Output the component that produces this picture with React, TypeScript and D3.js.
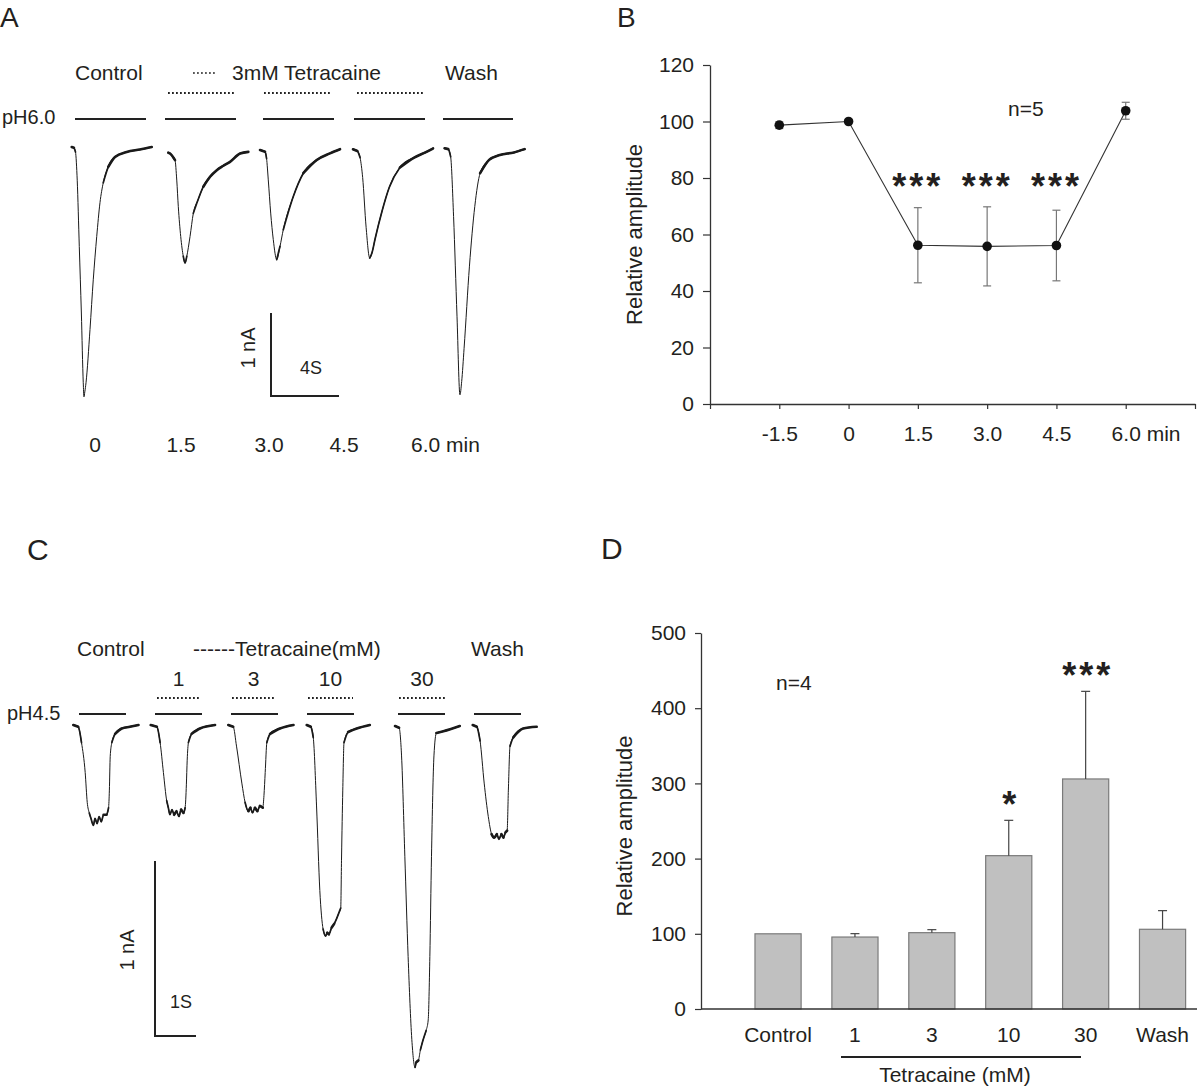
import React, { useEffect, useRef } from 'react';
import * as d3 from 'd3';

type Pt = [number, number];

const FONT = '"Liberation Sans", Arial, Helvetica, sans-serif';
const INK = '#231f20';

// ---------------- Panel A : pH 6.0 currents, [time (s), current (nA)] ----------------
const traceAControl: Pt[] = [[0,0],[0.13,-0.01],[0.22,-0.06],[0.32,-0.40],[0.44,-1.20],[0.56,-2.00],[0.67,-2.84],[0.71,-3.01],[0.76,-2.95],[0.83,-2.84],[1.06,-2.20],[1.25,-1.60],[1.45,-1.08],[1.64,-0.67],[1.83,-0.43],[2.12,-0.24],[2.51,-0.12],[3.19,-0.06],[3.96,-0.03],[4.64,0.0]];
const traceA15: Pt[] = [[0,0],[0.10,-0.01],[0.39,-0.09],[0.49,-0.33],[0.58,-0.65],[0.72,-1.01],[0.87,-1.25],[0.97,-1.33],[1.07,-1.25],[1.26,-1.01],[1.45,-0.73],[1.72,-0.57],[2.03,-0.41],[2.42,-0.29],[2.81,-0.21],[3.17,-0.16],[3.58,-0.11],[4.16,-0.01],[4.64,0.01]];
const traceA30: Pt[] = [[0,0],[0.29,-0.02],[0.38,-0.10],[0.48,-0.36],[0.62,-0.76],[0.77,-1.08],[0.97,-1.32],[1.16,-1.16],[1.35,-0.96],[1.93,-0.56],[2.51,-0.28],[3.29,-0.12],[4.06,-0.04],[4.64,0.01]];
const traceA45: Pt[] = [[0,0],[0.25,-0.02],[0.41,-0.10],[0.56,-0.34],[0.76,-0.94],[0.97,-1.31],[1.11,-1.24],[1.28,-1.08],[1.69,-0.74],[2.10,-0.46],[2.72,-0.22],[3.55,-0.10],[4.17,-0.04],[4.64,0.01]];
const traceAWash: Pt[] = [[0,0],[0.21,-0.01],[0.35,-0.10],[0.52,-0.82],[0.72,-2.03],[0.89,-2.97],[0.99,-2.81],[1.13,-2.41],[1.44,-1.42],[1.75,-0.70],[2.06,-0.30],[2.58,-0.14],[3.20,-0.08],[4.02,-0.05],[4.64,-0.01]];
const tracesA = [traceAControl, traceA15, traceA30, traceA45, traceAWash];
const timeLabelsA = ['0', '1.5', '3.0', '4.5', '6.0 min'];

// ---------------- Panel B : relative amplitude vs time ----------------
const timesB = [-1.5, 0, 1.5, 3.0, 4.5, 6.0];
const meanB = [98.7, 100, 56.2, 55.8, 56.1, 103.8];
const semB = [1.2, 0, 13.3, 14.0, 12.5, 3.0];
const sigB = ['', '', '***', '***', '***', ''];
const xTicksB = [-3, -1.5, 0, 1.5, 3, 4.5, 6, 7.5];
const xTickLabelsB = ['', '-1.5', '0', '1.5', '3.0', '4.5', '6.0 min', ''];
const yTicksB = [0, 20, 40, 60, 80, 100, 120];

// ---------------- Panel C : pH 4.5 currents, [time (s), current (nA)] ----------------
const traceCControl: Pt[] = [[0,0],[0.12,-0.01],[0.20,-0.10],[0.29,-0.27],[0.34,-0.44],[0.39,-0.50],[0.43,-0.53],[0.49,-0.57],[0.53,-0.53],[0.58,-0.56],[0.63,-0.52],[0.68,-0.55],[0.74,-0.51],[0.81,-0.51],[0.86,-0.47],[0.88,-0.37],[0.90,-0.18],[0.94,-0.10],[1.02,-0.05],[1.18,-0.02],[1.38,-0.01],[1.59,0]];
const traceC1: Pt[] = [[0,0],[0.15,-0.01],[0.23,-0.10],[0.31,-0.27],[0.39,-0.43],[0.43,-0.47],[0.47,-0.51],[0.52,-0.48],[0.57,-0.51],[0.63,-0.49],[0.69,-0.52],[0.74,-0.48],[0.80,-0.50],[0.84,-0.47],[0.87,-0.34],[0.89,-0.20],[0.92,-0.10],[1.00,-0.05],[1.20,-0.02],[1.57,0]];
const traceC3: Pt[] = [[0,0],[0.12,-0.01],[0.20,-0.12],[0.33,-0.33],[0.41,-0.44],[0.49,-0.49],[0.54,-0.47],[0.59,-0.50],[0.65,-0.47],[0.71,-0.49],[0.77,-0.46],[0.84,-0.47],[0.87,-0.40],[0.90,-0.27],[0.94,-0.10],[1.02,-0.05],[1.26,-0.02],[1.59,0]];
const traceC10: Pt[] = [[0,0],[0.10,-0.01],[0.16,-0.07],[0.24,-0.46],[0.32,-0.94],[0.40,-1.16],[0.46,-1.20],[0.50,-1.18],[0.54,-1.19],[0.61,-1.15],[0.67,-1.13],[0.73,-1.10],[0.78,-1.07],[0.83,-1.04],[0.85,-0.75],[0.88,-0.37],[0.91,-0.10],[1.01,-0.04],[1.22,-0.02],[1.54,0]];
const traceC30: Pt[] = [[0,0],[0.10,-0.01],[0.16,-0.17],[0.24,-0.74],[0.32,-1.31],[0.41,-1.78],[0.49,-1.94],[0.52,-1.91],[0.57,-1.90],[0.62,-1.84],[0.69,-1.78],[0.76,-1.73],[0.81,-1.67],[0.85,-1.31],[0.89,-0.74],[0.95,-0.17],[1.01,-0.04],[1.18,-0.03],[1.58,0]];
const traceCWash: Pt[] = [[0,0],[0.10,-0.01],[0.18,-0.09],[0.28,-0.33],[0.38,-0.52],[0.46,-0.62],[0.52,-0.64],[0.59,-0.62],[0.64,-0.65],[0.70,-0.62],[0.75,-0.64],[0.80,-0.61],[0.84,-0.60],[0.87,-0.37],[0.91,-0.12],[0.99,-0.07],[1.23,-0.02],[1.56,-0.01]];
const tracesC = [traceCControl, traceC1, traceC3, traceC10, traceC30, traceCWash];
const concLabelsC = ['1', '3', '10', '30'];

// ---------------- Panel D : relative amplitude per concentration ----------------
const categoriesD = ['Control', '1', '3', '10', '30', 'Wash'];
const meanD = [100, 95.7, 101.5, 203.9, 305.9, 106.0];
const semD = [0, 4.5, 4.0, 47.0, 116.5, 24.8];
const sigD = ['', '', '', '*', '***', ''];
const yTicksD = [0, 100, 200, 300, 400, 500];

// ---------------- layout ----------------
const A_START_X = [71.7, 168.3, 260, 353, 444.6];
const A_BASE_Y = [147, 152.7, 150, 149.3, 148.3];
const A_PX_S = 17.25, A_PX_NA = 83;
const C_START_X = [73.3, 150.7, 228.3, 306.7, 395, 472.7];
const C_BASE_Y = [725, 725, 725, 725, 726, 725];
const C_PX_S = 41, C_PX_NA = 176;

const xB = d3.scaleLinear().domain([-3, 7.5]).range([710, 1195]);
const yB = d3.scaleLinear().domain([0, 120]).range([404, 65]);
const xD = d3.scaleBand<string>().domain(categoriesD).range([739.6, 1201]).paddingInner(0.4).paddingOuter(0.2);
const yD = d3.scaleLinear().domain([0, 500]).range([1009, 633]);

function Trace({ data, x0, y0, pxS, pxNA }: { data: Pt[]; x0: number; y0: number; pxS: number; pxNA: number }) {
  const sx = d3.scaleLinear().domain([0, 1]).range([x0, x0 + pxS]);
  const sy = d3.scaleLinear().domain([0, -1]).range([y0, y0 + pxNA]);
  const pts: Pt[] = data.map(([t, i]) => [sx(t), sy(i)]);
  const line = d3.line<Pt>().curve(d3.curveMonotoneX);
  const runs = (thr: number) => {
    const out: Pt[][] = [];
    let cur: Pt[] | null = null;
    for (let k = 0; k < pts.length - 1; k++) {
      const dx = pts[k + 1][0] - pts[k][0];
      const dy = pts[k + 1][1] - pts[k][1];
      const slope = Math.abs(dy / Math.max(dx, 0.01));
      if (slope < thr) {
        if (!cur) { cur = [pts[k]]; out.push(cur); }
        cur.push(pts[k + 1]);
      } else cur = null;
    }
    return out;
  };
  return (
    <g fill="none" stroke="#1a1a1a" strokeLinejoin="round" strokeLinecap="round">
      <path d={line(pts) || ''} strokeWidth={1} />
      {runs(5).map((r, i) => <path key={'m' + i} d={line(r) || ''} strokeWidth={1.7} />)}
      {runs(1.8).map((r, i) => <path key={'t' + i} d={line(r) || ''} strokeWidth={2.6} />)}
    </g>
  );
}

function styleAxis(g: any, fs: number) {
  g.attr('font-family', FONT).attr('font-size', fs);
  g.selectAll('.domain').attr('stroke', '#333').attr('stroke-width', 1.3);
  g.selectAll('.tick line').attr('stroke', '#333').attr('stroke-width', 1.2);
  g.selectAll('.tick text').attr('fill', INK);
}

const Bar = ({ x1, x2, y, dotted }: { x1: number; x2: number; y: number; dotted?: boolean }) => (
  <line x1={x1} x2={x2} y1={y} y2={y} stroke="#222" strokeWidth={dotted ? 1.8 : 2.2}
    strokeDasharray={dotted ? '1.8 2.2' : undefined} />
);

export default function App() {
  const byRef = useRef<SVGGElement>(null);
  const bxRef = useRef<SVGGElement>(null);
  const dyRef = useRef<SVGGElement>(null);
  const dxRef = useRef<SVGGElement>(null);

  useEffect(() => {
    const gy = d3.select(byRef.current!).call(
      d3.axisLeft(yB).tickValues(yTicksB).tickSize(7).tickSizeOuter(0).tickPadding(9).tickFormat(d3.format('d')) as any);
    styleAxis(gy, 21);
    const gx = d3.select(bxRef.current!).call(
      d3.axisBottom(xB).tickValues(xTicksB).tickSize(5).tickSizeOuter(0).tickPadding(17)
        .tickFormat((_d: any, i: number) => xTickLabelsB[i]) as any);
    styleAxis(gx, 21);
    gx.selectAll('.tick text').filter((_d: any, i: number) => xTickLabelsB[i].includes('min'))
      .attr('text-anchor', 'start').attr('x', -14.6);

    const gdy = d3.select(dyRef.current!).call(
      d3.axisLeft(yD).tickValues(yTicksD).tickSize(6).tickSizeOuter(0).tickPadding(9).tickFormat(d3.format('d')) as any);
    styleAxis(gdy, 21);
    const gdx = d3.select(dxRef.current!).call(d3.axisBottom(xD).tickSize(0).tickPadding(18) as any);
    styleAxis(gdx, 21);
    gdx.select('.domain').remove();
  }, []);

  const lineB = d3.line<number>().x((_d, i) => xB(timesB[i])).y((d) => yB(d));

  return (
    <svg width={1200} height={1087} style={{ position: 'absolute', left: 0, top: 0, background: '#fff' }}
      fontFamily={FONT} fill={INK}>
      <rect width={1200} height={1087} fill="#fff" />

      {/* ================= Panel A ================= */}
      <text x={0} y={27} fontSize={28}>A</text>
      <text x={75} y={80} fontSize={21}>Control</text>
      <line x1={193} x2={216} y1={73} y2={73} stroke="#222" strokeWidth={1.6} strokeDasharray="1.8 2.2" />
      <text x={232} y={80} fontSize={21}>3mM Tetracaine</text>
      <text x={445} y={80} fontSize={21}>Wash</text>
      <text x={2} y={124} fontSize={20}>pH6.0</text>
      {[[168, 234], [264, 330], [357, 423]].map(([a, b], i) => <Bar key={'ad' + i} x1={a} x2={b} y={93} dotted />)}
      {[[75, 146], [165, 236], [263, 334], [354, 425], [443, 513]].map(([a, b], i) => <Bar key={'as' + i} x1={a} x2={b} y={119} />)}
      {tracesA.map((tr, i) => (
        <Trace key={'ta' + i} data={tr} x0={A_START_X[i]} y0={A_BASE_Y[i]} pxS={A_PX_S} pxNA={A_PX_NA} />
      ))}
      <path d="M271,313V396H339" fill="none" stroke="#222" strokeWidth={2} />
      <text transform="translate(255,348) rotate(-90)" textAnchor="middle" fontSize={20}>1 nA</text>
      <text x={300} y={374} fontSize={18}>4S</text>
      {timeLabelsA.map((t, i) => {
        const cx = [95, 181, 269, 344, 411][i];
        return <text key={'tl' + i} x={cx} y={452} fontSize={21} textAnchor={i === 4 ? 'start' : 'middle'}>{t}</text>;
      })}

      {/* ================= Panel B ================= */}
      <text x={617} y={27} fontSize={28}>B</text>
      <g ref={byRef} transform={`translate(${xB.range()[0]},0)`} />
      <g ref={bxRef} transform={`translate(0,${yB(0)})`} />
      <text transform={`translate(642,${(yB(0) + yB(120)) / 2}) rotate(-90)`} textAnchor="middle" fontSize={22}>Relative amplitude</text>
      <path d={lineB(meanB) || ''} fill="none" stroke="#333" strokeWidth={1.1} />
      {meanB.map((m, i) => semB[i] > 0 && (
        <g key={'eb' + i} stroke="#777" strokeWidth={1.2}>
          <line x1={xB(timesB[i])} x2={xB(timesB[i])} y1={yB(m - semB[i])} y2={yB(m + semB[i])} />
          <line x1={xB(timesB[i]) - 4} x2={xB(timesB[i]) + 4} y1={yB(m - semB[i])} y2={yB(m - semB[i])} />
          <line x1={xB(timesB[i]) - 4} x2={xB(timesB[i]) + 4} y1={yB(m + semB[i])} y2={yB(m + semB[i])} />
        </g>
      ))}
      {meanB.map((m, i) => <circle key={'pb' + i} cx={xB(timesB[i])} cy={yB(m)} r={4.8} fill="#111" />)}
      {sigB.map((s, i) => s && (
        <text key={'sb' + i} x={xB(timesB[i])} y={yB(80) + 21} fontSize={36} fontWeight="bold"
          textAnchor="middle" letterSpacing={3}>{s}</text>
      ))}
      <text x={1008} y={116} fontSize={21}>n=5</text>

      {/* ================= Panel C ================= */}
      <text x={27} y={560} fontSize={30}>C</text>
      <text x={77} y={656} fontSize={21}>Control</text>
      <text x={193} y={656} fontSize={21}>------Tetracaine(mM)</text>
      <text x={471} y={656} fontSize={21}>Wash</text>
      {concLabelsC.map((c, i) => (
        <text key={'cl' + i} x={[178.5, 253.5, 330.5, 422][i]} y={686} fontSize={21} textAnchor="middle">{c}</text>
      ))}
      <text x={7} y={720} fontSize={20}>pH4.5</text>
      {[[157, 200], [232, 275], [308, 353], [399, 445]].map(([a, b], i) => <Bar key={'cd' + i} x1={a} x2={b} y={698} dotted />)}
      {[[79, 126], [155, 202], [231, 278], [307, 354], [398, 445], [474, 521]].map(([a, b], i) => <Bar key={'cs' + i} x1={a} x2={b} y={714} />)}
      {tracesC.map((tr, i) => (
        <Trace key={'tc' + i} data={tr} x0={C_START_X[i]} y0={C_BASE_Y[i]} pxS={C_PX_S} pxNA={C_PX_NA} />
      ))}
      <path d="M155,861V1036H196" fill="none" stroke="#222" strokeWidth={2} />
      <text transform="translate(134,950) rotate(-90)" textAnchor="middle" fontSize={20}>1 nA</text>
      <text x={170} y={1008} fontSize={18}>1S</text>

      {/* ================= Panel D ================= */}
      <text x={601} y={559} fontSize={30}>D</text>
      {categoriesD.map((c, i) => (
        <rect key={'bd' + i} x={xD(c)} y={yD(meanD[i])} width={xD.bandwidth()} height={yD(0) - yD(meanD[i])}
          fill="#c0c0c0" stroke="#7a7a7a" strokeWidth={1.2} />
      ))}
      {categoriesD.map((c, i) => {
        if (!(semD[i] > 0)) return null;
        const cx = (xD(c) as number) + xD.bandwidth() / 2;
        return (
          <g key={'ed' + i} stroke="#444" strokeWidth={1.2}>
            <line x1={cx} x2={cx} y1={yD(meanD[i])} y2={yD(meanD[i] + semD[i])} />
            <line x1={cx - 4.5} x2={cx + 4.5} y1={yD(meanD[i] + semD[i])} y2={yD(meanD[i] + semD[i])} />
          </g>
        );
      })}
      {categoriesD.map((c, i) => sigD[i] && (
        <text key={'sd' + i} x={(xD(c) as number) + xD.bandwidth() / 2 + 2} y={yD(meanD[i] + semD[i]) - 24 + 21}
          fontSize={36} fontWeight="bold" textAnchor="middle" letterSpacing={3}>{sigD[i]}</text>
      ))}
      <g ref={dyRef} transform="translate(701,0)" />
      <line x1={701} x2={1197} y1={yD(0)} y2={yD(0)} stroke="#333" strokeWidth={1.3} />
      <g ref={dxRef} transform={`translate(0,${yD(0)})`} />
      <text transform={`translate(632,${(yD(0) + yD(500)) / 2 + 5}) rotate(-90)`} textAnchor="middle" fontSize={22}>Relative amplitude</text>
      <text x={776} y={690} fontSize={21}>n=4</text>
      <line x1={841} x2={1081} y1={1057} y2={1057} stroke="#222" strokeWidth={2} />
      <text x={955} y={1082} fontSize={21} textAnchor="middle">Tetracaine (mM)</text>
    </svg>
  );
}
